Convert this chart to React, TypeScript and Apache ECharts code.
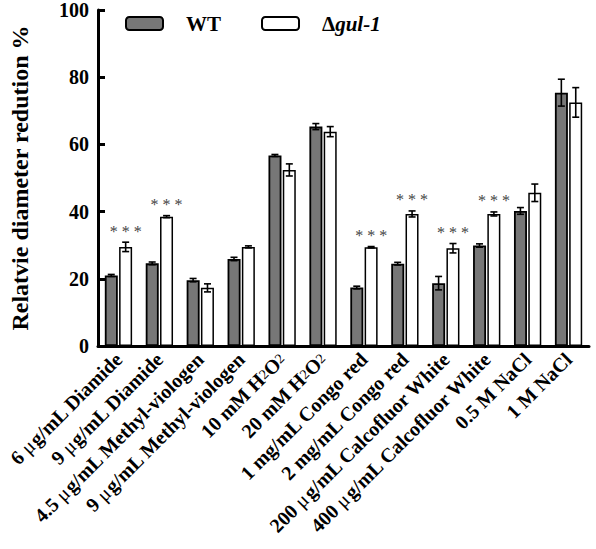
import React, { useEffect, useRef } from "react";
import * as echarts from "echarts";

const categories = [
  "6 μg/mL Diamide",
  "9 μg/mL Diamide",
  "4.5 μg/mL Methyl-viologen",
  "9 μg/mL Methyl-viologen",
  "10 mM H2O2",
  "20 mM H2O2",
  "1 mg/mL Congo red",
  "2 mg/mL Congo red",
  "200 μg/mL Calcofluor White",
  "400 μg/mL Calcofluor White",
  "0.5 M NaCl",
  "1 M NaCl",
];
const wtValues = [21.0, 24.6, 19.6, 25.9, 56.7, 65.3, 17.4, 24.5, 18.7, 29.9, 40.2, 75.4];
const wtErrors = [0.3, 0.4, 0.5, 0.5, 0.3, 0.9, 0.4, 0.4, 2.0, 0.5, 1.0, 4.0];
const gulValues = [29.5, 38.5, 17.3, 29.5, 52.4, 63.8, 29.4, 39.3, 29.1, 39.3, 45.6, 72.5];
const gulErrors = [1.4, 0.3, 1.2, 0.3, 1.8, 1.5, 0.2, 0.9, 1.4, 0.6, 2.6, 4.4];
const significance = ["***", "***", "", "", "", "", "***", "***", "***", "***", "", ""];
const yTicks = [0, 20, 40, 60, 80, 100];

const FONT = "'Liberation Serif', 'Times New Roman', serif";
const BAR_W = 13;
const BAR_OFFSET = 7.2;

function formatCategory(s: string): string {
  return s.replace(/H2O2/g, "H{s|2}O{s|2}").replace(/μ/g, "{u|μ}");
}

function errorSeries(values: number[], errors: number[], offset: number) {
  return {
    type: "custom",
    silent: true,
    z: 5,
    data: values.map((v, i) => [i, v, errors[i]]),
    renderItem: (params: any, api: any) => {
      const i = api.value(0);
      const v = api.value(1);
      const e = api.value(2);
      const top = api.coord([i, v + e]);
      const bot = api.coord([i, v - e]);
      const x = top[0] + offset;
      const cap = 3.5;
      const style = { stroke: "#000", lineWidth: 1.6 };
      return {
        type: "group",
        children: [
          { type: "line", shape: { x1: x, y1: top[1], x2: x, y2: bot[1] }, style },
          { type: "line", shape: { x1: x - cap, y1: top[1], x2: x + cap, y2: top[1] }, style },
          { type: "line", shape: { x1: x - cap, y1: bot[1], x2: x + cap, y2: bot[1] }, style },
        ],
      };
    },
  };
}

export default function App() {
  const ref = useRef<HTMLDivElement>(null);
  useEffect(() => {
    if (!ref.current) return;
    const chart = echarts.init(ref.current, undefined, { renderer: "svg" });
    chart.setOption({
      animation: false,
      textStyle: { fontFamily: FONT },
      grid: { left: 87, right: 7, top: 10, bottom: 203, containLabel: false },
      legend: {
        left: 120,
        top: 8,
        itemWidth: 37,
        itemHeight: 13,
        itemGap: 40,
        data: ["WT", "Δgul-1"],
        formatter: (name: string) => (name === "WT" ? "{b|WT}" : "{b|Δ}{i|gul-1}"),
        textStyle: {
          padding: [0, 0, 0, 18],
          rich: {
            b: { fontFamily: FONT, fontWeight: "bold", fontSize: 21, color: "#000" },
            i: { fontFamily: FONT, fontWeight: "bold", fontStyle: "italic", fontSize: 21, color: "#000" },
          },
        },
      },
      xAxis: {
        type: "category",
        data: categories,
        axisLine: { lineStyle: { color: "#000", width: 3 } },
        axisTick: { show: false },
        axisLabel: {
          rotate: 45,
          interval: 0,
          margin: 10,
          formatter: (v: string) => formatCategory(v),
          fontFamily: FONT,
          fontWeight: "bold",
          fontSize: 20,
          color: "#000",
          rich: {
            s: { fontFamily: FONT, fontWeight: "normal", fontSize: 14, color: "#000" },
            u: { fontFamily: FONT, fontWeight: "normal", fontSize: 20, color: "#000" },
          },
        },
      },
      yAxis: {
        type: "value",
        min: 0,
        max: 100,
        interval: 20,
        name: "Relatvie diameter redution %",
        nameLocation: "middle",
        nameGap: 66,
        nameTextStyle: { fontFamily: FONT, fontWeight: "bold", fontSize: 24, color: "#000" },
        axisLine: { show: true, lineStyle: { color: "#000", width: 3 } },
        axisTick: { show: true, inside: true, length: 7, lineStyle: { color: "#000", width: 3 } },
        splitLine: { show: false },
        axisLabel: {
          margin: 9,
          fontFamily: FONT,
          fontWeight: "bold",
          fontSize: 20,
          color: "#000",
          formatter: (v: number) => (yTicks.includes(v) ? String(v) : ""),
        },
      },
      series: [
        {
          name: "WT",
          type: "bar",
          data: wtValues,
          barWidth: BAR_W,
          barGap: "10%",
          itemStyle: { color: "#777777", borderColor: "#000", borderWidth: 1.8 },
        },
        {
          name: "Δgul-1",
          type: "bar",
          data: gulValues,
          barWidth: BAR_W,
          barGap: "10%",
          itemStyle: { color: "#ffffff", borderColor: "#000", borderWidth: 1.5 },
        },
        errorSeries(wtValues, wtErrors, -BAR_OFFSET),
        errorSeries(gulValues, gulErrors, BAR_OFFSET),
        {
          type: "custom",
          silent: true,
          z: 6,
          itemStyle: { color: "#444" },
          data: gulValues.map((v, i) => [i, v + gulErrors[i]]),
          renderItem: (params: any, api: any) => {
            const i = api.value(0);
            const label = significance[i];
            if (!label) return null;
            const p = api.coord([i, api.value(1)]);
            return {
              type: "text",
              x: p[0] + BAR_OFFSET,
              y: p[1] - 3,
              style: {
                text: label.split("").join(" "),
                fontFamily: FONT,
                fontSize: 16,
                fill: "#444",
                align: "center",
                verticalAlign: "bottom",
              },
            };
          },
        },
      ],
    });
    return () => chart.dispose();
  }, []);
  return (
    <div
      ref={ref}
      style={{ position: "fixed", left: 0, top: 0, width: 596, height: 549, background: "#fff" }}
    />
  );
}
